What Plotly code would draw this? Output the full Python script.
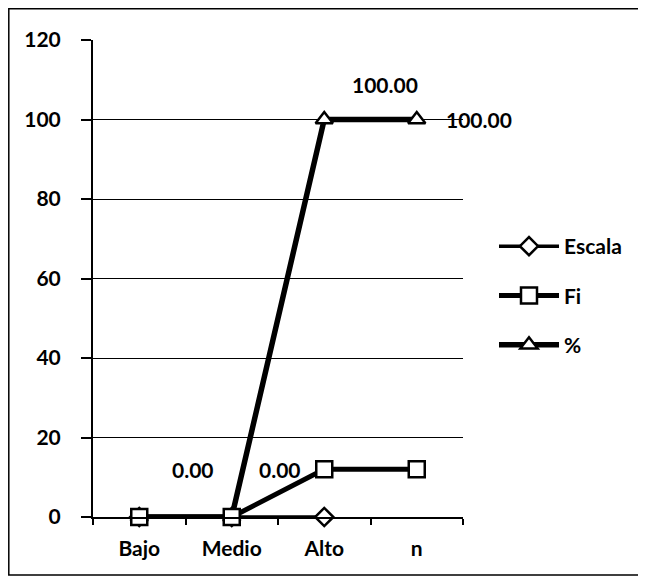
import plotly.graph_objects as go

categories = ["Bajo", "Medio", "Alto", "n"]
escala = [0, 0, 0, None]
fi = [0, 0, 12, 12]
pct = [0, 0, 100, 100]

label_x = ["Medio", "Alto", "Alto", "n"]
label_y = [12, 12, 100, 100]
label_text = ["0.00", "0.00", "100.00", "100.00"]
label_xshift = [-39, -44, 61, 27]
label_yshift = [0, 0, 35, 0]
label_anchor = ["center", "center", "center", "left"]

y_ticks = [0, 20, 40, 60, 80, 100, 120]

FONT = "Lato"
FS = 21
OFF = 8  # page body margin
fig = go.Figure()

def add(name, vals, symbol, msize, lw, rank):
    fig.add_trace(go.Scatter(
        x=categories, y=vals, name=name, mode="lines+markers",
        line=dict(color="black", width=lw),
        marker=dict(symbol=symbol, size=msize, color="white",
                    line=dict(color="black", width=2.5)),
        legendgroup=name, legendrank=rank, cliponaxis=False))

# drawing order: % below, then Escala, then Fi on top (legend keeps Escala, Fi, %)
add("%", pct, "triangle-up", 15, 5.5, 3)
add("Escala", escala, "diamond", 14, 3.5, 1)
add("Fi", fi, "square", 16, 5, 2)

for xv, yv, t, xs, ys, an in zip(label_x, label_y, label_text, label_xshift, label_yshift, label_anchor):
    fig.add_annotation(x=xv, y=yv, text=t, showarrow=False,
                       xshift=xs, yshift=ys, xanchor=an,
                       font=dict(family=FONT, size=FS, color="black", weight="bold"))

L, T = 93 - OFF, 40 - OFF
PW, PH = 370, 477
W, H = 646, 579
fig.add_shape(type="rect", xref="paper", yref="paper",
              x0=(0.8 - L) / PW, x1=(632 - L) / PW,
              y0=(T + PH - 567) / PH, y1=(T + PH - 0.8) / PH,
              line=dict(color="black", width=1.5))

fig.update_layout(
    width=W, height=H,
    margin=dict(l=L, r=W - L - PW, t=T, b=H - T - PH),
    plot_bgcolor="white", paper_bgcolor="white",
    font=dict(family=FONT, size=FS, color="black", weight="bold"),
    showlegend=True,
    legend=dict(x=(494 - 93) / PW, y=(517 - 226) / PH, xanchor="left", yanchor="top",
                traceorder="grouped", tracegroupgap=19, itemwidth=60,
                font=dict(family=FONT, size=FS, color="black", weight="bold"),
                bgcolor="rgba(0,0,0,0)"),
    xaxis=dict(range=[-0.5, 3.5], showgrid=False, showline=True, linecolor="black",
               linewidth=2, ticks="outside", tickson="boundaries", ticklen=6,
               tickcolor="black", tickwidth=1.5, ticklabelstandoff=12,
               tickfont=dict(family=FONT, size=FS, color="black", weight="bold"),
               zeroline=False, fixedrange=True),
    yaxis=dict(range=[0, 120], tickvals=y_ticks, showgrid=True, gridcolor="black",
               gridwidth=1, showline=True, linecolor="black", linewidth=2,
               ticks="outside", ticklen=10, tickcolor="black", tickwidth=1.5,
               ticklabelstandoff=16, zeroline=False,
               tickfont=dict(family=FONT, size=FS, color="black", weight="bold")),
)

fig.write_html("out.html")
